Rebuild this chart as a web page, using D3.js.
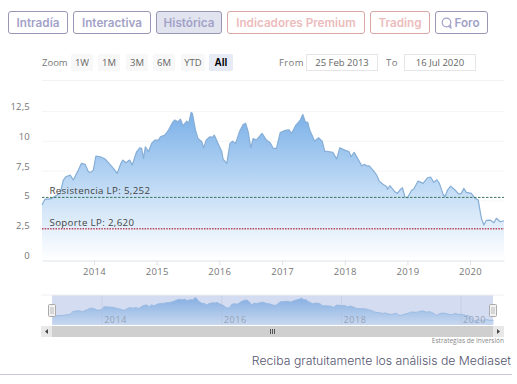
<!DOCTYPE html>
<html><head><meta charset="utf-8">
<script src="https://cdn.jsdelivr.net/npm/d3@7"></script>
<style>html,body{margin:0;padding:0;background:#fff}svg{display:block}</style>
</head><body><svg id="c" width="517" height="384"></svg>
<script>
const years=[2013.17,2013.22,2013.27,2013.33,2013.41,2013.46,2013.51,2013.55,2013.62,2013.67,2013.75,2013.80,2013.86,2013.91,2013.95,2013.99,2014.03,2014.10,2014.18,2014.24,2014.31,2014.37,2014.43,2014.46,2014.51,2014.55,2014.57,2014.61,2014.68,2014.73,2014.76,2014.79,2014.82,2014.87,2014.92,2014.97,2015.03,2015.06,2015.13,2015.19,2015.26,2015.29,2015.34,2015.38,2015.42,2015.48,2015.51,2015.55,2015.57,2015.62,2015.66,2015.72,2015.75,2015.79,2015.85,2015.89,2015.92,2015.98,2016.04,2016.06,2016.12,2016.17,2016.21,2016.26,2016.32,2016.38,2016.42,2016.46,2016.50,2016.54,2016.59,2016.68,2016.75,2016.81,2016.86,2016.91,2016.97,2017.05,2017.11,2017.15,2017.22,2017.29,2017.33,2017.37,2017.41,2017.44,2017.52,2017.58,2017.64,2017.68,2017.76,2017.81,2017.87,2017.92,2018.00,2018.07,2018.10,2018.15,2018.22,2018.27,2018.31,2018.36,2018.39,2018.45,2018.51,2018.55,2018.61,2018.67,2018.68,2018.72,2018.80,2018.84,2018.88,2018.92,2018.96,2019.00,2019.07,2019.10,2019.17,2019.25,2019.32,2019.37,2019.42,2019.47,2019.51,2019.57,2019.60,2019.64,2019.69,2019.76,2019.82,2019.86,2019.90,2019.94,2020.02,2020.08,2020.13,2020.18,2020.22,2020.26,2020.32,2020.38,2020.42,2020.48,2020.54];
const closes=[4.61,5.11,5.11,5.17,5.45,5.59,6.71,6.98,7.12,6.71,7.54,8.11,8.02,7.40,7.35,7.54,8.72,8.66,8.47,8.11,7.69,7.27,8.11,8.38,8.16,8.32,8.38,7.96,9.08,9.41,9.36,8.52,9.50,9.08,9.78,10.06,10.06,10.34,10.48,10.90,11.59,11.74,11.59,11.82,11.26,11.65,11.46,12.38,12.30,10.90,10.20,9.92,9.41,10.06,10.34,10.29,10.48,9.78,9.08,8.47,8.11,9.78,9.97,9.78,10.75,11.37,11.46,10.75,9.41,10.20,10.06,10.62,10.06,9.83,9.36,9.36,10.70,10.87,10.92,10.62,11.32,11.74,12.21,11.59,11.54,10.90,9.97,10.25,9.97,9.14,9.08,9.03,8.47,9.41,9.22,9.08,8.66,9.03,8.38,7.90,8.02,7.88,7.90,7.54,7.12,6.62,6.35,6.14,5.93,6.23,5.72,5.59,5.87,6.06,5.31,5.22,5.87,5.93,6.62,6.43,6.90,6.96,6.51,6.73,6.43,5.51,5.31,5.87,6.20,5.87,5.53,5.59,6.01,5.67,5.59,5.17,5.03,3.50,2.93,3.33,3.35,3.13,3.50,3.21,3.29];
const yTicks=[0,2.5,5,7.5,10,12.5];
const xTickYears=[2014,2015,2016,2017,2018,2019,2020];
const navTickYears=[2014,2016,2018,2020];
const resistance=5.252, support=2.620;
const resistanceLabel="Resistencia LP: 5,252", supportLabel="Soporte LP: 2,620";
const tabs=["Intradía","Interactiva","Histórica","Indicadores Premium","Trading","Foro"];
const zoomButtons=["1W","1M","3M","6M","YTD","All"];
const fromDate="25 Feb 2013", toDate="16 Jul 2020";

const toDateObj=y=>{const f=Math.floor(y);const a=new Date(Date.UTC(f,0,1)),b=new Date(Date.UTC(f+1,0,1));return new Date(+a+(y-f)*(b-a));};
const data=years.map((y,i)=>({d:toDateObj(y),v:closes[i]}));
const svg=d3.select("#c");
const UI="'Inter','Lato',sans-serif", CH="'Open Sans',sans-serif";
const TXT="#777";
const defs=svg.append("defs");
const g1=defs.append("linearGradient").attr("id","ga").attr("x1",0).attr("x2",0).attr("y1",0).attr("y2",1);
g1.append("stop").attr("offset",0).attr("stop-color","#7ab0e8");
g1.append("stop").attr("offset",0.55).attr("stop-color","#c6def6");
g1.append("stop").attr("offset",1).attr("stop-color","#ffffff");
const g2=defs.append("linearGradient").attr("id","gb").attr("x1",0).attr("x2",0).attr("y1",0).attr("y2",1);
g2.append("stop").attr("offset",0).attr("stop-color","#86afe2");
g2.append("stop").attr("offset",1).attr("stop-color","#c8d8f0");

// tabs
const tabBoxes=[[8,59],[73,77],[156,65],[227,137],[370,59],[435,52]];
tabs.forEach((t,i)=>{
  const [x,w]=tabBoxes[i], pink=i===3||i===4, act=i===2;
  svg.append("rect").attr("x",x+.5).attr("y",11.5).attr("width",w).attr("height",22).attr("rx",2.5)
    .attr("fill",act?"#e1e3ee":"#fff").attr("stroke",pink?"#dba6a6":"#9796b4");
  svg.append("text").attr("x",x+w/2+(i===5?6:.5)).attr("y",27).attr("text-anchor","middle")
    .attr("font-family",UI).attr("font-size",11.7).attr("font-weight",600)
    .attr("fill",pink?"#ecbcbc":"#a3a2c8").text(t);
});
// chat icon
svg.append("circle").attr("cx",446.5).attr("cy",22.5).attr("r",4.3).attr("fill","none").attr("stroke","#a3a2c8").attr("stroke-width",1.2);
svg.append("path").attr("d","M448 26l3 2-.6-3.6").attr("fill","none").attr("stroke","#a3a2c8").attr("stroke-width",1.1);

// range selector
svg.append("text").attr("x",42).attr("y",66).attr("font-family",CH).attr("font-size",9.5).attr("fill",TXT).text("Zoom");
const zb=[71,98,126,153,181,209], zw=[22,22,22,22,24,24];
zoomButtons.forEach((t,i)=>{
  const on=t==="All";
  svg.append("rect").attr("x",zb[i]).attr("y",54).attr("width",zw[i]).attr("height",17).attr("rx",1.5).attr("fill",on?"#e6ebf5":"#f8f8f8");
  svg.append("text").attr("x",zb[i]+zw[i]/2).attr("y",65.5).attr("text-anchor","middle").attr("font-family",on?"'Liberation Sans',sans-serif":CH)
    .attr("font-size",on?10:9.5).attr("font-weight",on?700:400).attr("fill",on?"#000":"#666").text(t);
});
svg.append("text").attr("x",279).attr("y",65.5).attr("font-family",CH).attr("font-size",9.5).attr("letter-spacing",.4).attr("fill",TXT).text("From");
svg.append("text").attr("x",386).attr("y",65.5).attr("font-family",CH).attr("font-size",9.5).attr("letter-spacing",.4).attr("fill",TXT).text("To");
[[306,71,fromDate],[404,71,toDate]].forEach(([x,w,t])=>{
  svg.append("rect").attr("x",x+.5).attr("y",54.5).attr("width",w).attr("height",16).attr("fill","#fff").attr("stroke","#e6e6e6");
  svg.append("text").attr("x",x+w/2+.5).attr("y",65.5).attr("text-anchor","middle").attr("font-family",CH).attr("font-size",9.5).attr("fill","#666").text(t);
});
svg.append("line").attr("x1",42).attr("x2",504).attr("y1",80.5).attr("y2",80.5).attr("stroke","#f2f2f2");

// main chart
const dom=[toDateObj(2013.17),toDateObj(2020.54)];
const x=d3.scaleUtc().domain(dom).range([42,504]);
const y=d3.scaleLinear().domain([0,12.5]).range([260,111]);
const gy=svg.append("g").attr("transform","translate(42,0)")
  .call(d3.axisLeft(y).tickValues(yTicks).tickSize(-462).tickPadding(12).tickFormat(v=>String(v).replace(".",",")));
gy.select(".domain").remove();
gy.selectAll(".tick line").attr("stroke",d=>d===0?"#ffffff":"#f5f5f5");
gy.selectAll(".tick text").attr("dy",-1.5).attr("font-family",CH).attr("font-size",9.5).attr("letter-spacing",.2).attr("fill",TXT);

const area=d3.area().x(d=>x(d.d)).y0(y(0)).y1(d=>y(d.v));
const line=d3.line().x(d=>x(d.d)).y(d=>y(d.v));
svg.append("path").datum(data).attr("d",area).attr("fill","url(#ga)");
svg.append("path").datum(data).attr("d",line).attr("fill","none").attr("stroke","#86aed6").attr("stroke-width",1.2).attr("stroke-linejoin","round");

const gx=svg.append("g").attr("transform","translate(0,260.5)")
  .call(d3.axisBottom(x).tickValues(xTickYears.map(toDateObj)).tickSize(5).tickSizeOuter(0).tickPadding(3).tickFormat(d3.utcFormat("%Y")));
gx.select(".domain").attr("stroke","#e0e2e8");
gx.selectAll(".tick line").attr("stroke","#e0e2e8");
gx.selectAll(".tick text").attr("font-family",CH).attr("font-size",9.5).attr("letter-spacing",.3).attr("fill",TXT);

svg.append("line").attr("x1",42).attr("x2",504).attr("y1",y(resistance)).attr("y2",y(resistance)).attr("stroke","#3c7558").attr("stroke-width",1).attr("stroke-dasharray","2.5,1.5");
svg.append("line").attr("x1",42).attr("x2",504).attr("y1",y(support)).attr("y2",y(support)).attr("stroke","#b5465f").attr("stroke-width",1.3).attr("stroke-dasharray","1.5,1.2");
svg.append("text").attr("x",49.5).attr("y",y(resistance)-3).attr("font-family",CH).attr("font-size",9.7).attr("letter-spacing",.35).attr("fill","#444").text(resistanceLabel);
svg.append("text").attr("x",49.5).attr("y",y(support)-3).attr("font-family",CH).attr("font-size",9.7).attr("letter-spacing",.35).attr("fill","#444").text(supportLabel);

// navigator
const nx=d3.scaleUtc().domain(dom).range([52.5,493.5]);
const ny=d3.scaleLinear().domain([1.3,13.5]).range([325,295]);
const nav=svg.append("g");
nav.append("rect").attr("x",52).attr("y",295).attr("width",441).attr("height",30).attr("fill","#d3dcf0");
nav.append("path").datum(data).attr("d",d3.area().x(d=>nx(d.d)).y0(325).y1(d=>ny(d.v))).attr("fill","url(#gb)");
nav.append("path").datum(data).attr("d",d3.line().x(d=>nx(d.d)).y(d=>ny(d.v))).attr("fill","none").attr("stroke","#94b6de").attr("stroke-width",.8);
navTickYears.forEach(t=>{
  const px=nx(toDateObj(t));
  nav.append("line").attr("x1",px).attr("x2",px).attr("y1",295).attr("y2",325).attr("stroke","#aebbd6").attr("stroke-opacity",.35);
  nav.append("text").attr("x",px+2).attr("y",323).attr("font-family",CH).attr("font-size",9).attr("letter-spacing",.6).attr("fill","#96a2b6").text(t);
});
nav.append("line").attr("x1",41).attr("x2",504).attr("y1",295).attr("y2",295).attr("stroke","#f0f0f0");
nav.append("rect").attr("x",41).attr("y",326).attr("width",463).attr("height",11).attr("fill","#cfcfcf");
nav.append("rect").attr("x",41).attr("y",326).attr("width",11).attr("height",11).attr("fill","#e8e8e8");
nav.append("rect").attr("x",493).attr("y",326).attr("width",11).attr("height",11).attr("fill","#e8e8e8");
nav.append("path").attr("d","M48 329v5l-3-2.5z").attr("fill","#444");
nav.append("path").attr("d","M497 329v5l3-2.5z").attr("fill","#444");
nav.append("path").attr("d","M270.5 329v5M272.5 329v5M274.5 329v5").attr("stroke","#555").attr("stroke-width",1);
[52,493].forEach(px=>{
  nav.append("rect").attr("x",px-3.5).attr("y",304.5).attr("width",7).attr("height",12).attr("rx",1).attr("fill","#f2f2f2").attr("stroke","#aaa");
  nav.append("path").attr("d",`M${px-1} 307v7M${px+1} 307v7`).attr("stroke","#bbb");
});
svg.append("text").attr("x",504).attr("y",343).attr("text-anchor","end").attr("font-family",CH).attr("font-size",6.5).attr("fill","#888").text("Estrategias de Inversión");

svg.append("text").attr("x",511).attr("y",365).attr("text-anchor","end").attr("font-family",UI).attr("font-size",12.25).attr("font-weight",300).attr("fill","#55556f").text("Reciba gratuitamente los análisis de Mediaset");
svg.append("line").attr("x1",0).attr("x2",512).attr("y1",374.5).attr("y2",374.5).attr("stroke","#c8cadc");
</script></body></html>
